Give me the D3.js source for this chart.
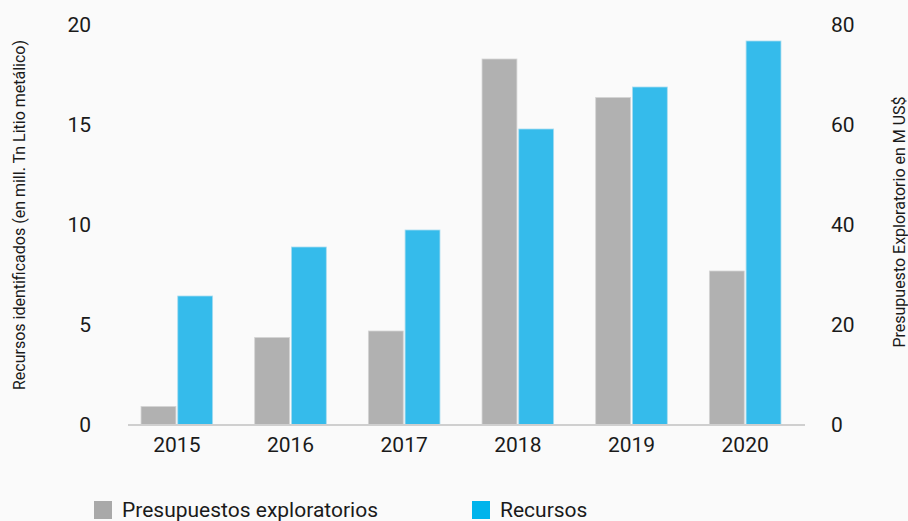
<!DOCTYPE html>
<html>
<head>
<meta charset="utf-8">
<script src="https://cdn.jsdelivr.net/npm/d3@7"></script>
<style>
  html, body { margin: 0; padding: 0; background: #fafafa; }
  svg { display: block; }
  text { font-family: Roboto, "Noto Sans", sans-serif; fill: #1a1a1a; }
</style>
</head>
<body>
<svg id="chart" width="908" height="521"></svg>
<script>
// Años y series
const years = ["2015", "2016", "2017", "2018", "2019", "2020"];
// Presupuesto exploratorio (M US$) — eje derecho
const presupuestos = [3.7, 17.5, 18.8, 73.2, 65.5, 30.8];
// Recursos identificados (mill. Tn Litio metálico) — eje izquierdo
const recursos = [6.45, 8.9, 9.75, 14.8, 16.9, 19.2];
const leftTicks = [0, 5, 10, 15, 20];
const rightTicks = [0, 20, 40, 60, 80];
const seriesNames = ["Presupuestos exploratorios", "Recursos"];

const colors = { bar: ["#b1b1b1", "#35bbeb"], legend: ["#a9a9a9", "#00b4ec"] };

const svg = d3.select("#chart");
const plotTop = 25, plotBottom = 425;

const x0 = d3.scaleBand().domain(years).range([120, 802])
  .paddingInner(0.37).paddingOuter(0.185);
const x1 = d3.scaleBand().domain([0, 1]).range([0, x0.bandwidth()]).paddingInner(0.05);
const yLeft = d3.scaleLinear().domain([0, 20]).range([plotBottom, plotTop]);
const yRight = d3.scaleLinear().domain([0, 80]).range([plotBottom, plotTop]);

// Barras
const groups = svg.append("g").selectAll("g").data(years).join("g")
  .attr("transform", d => `translate(${x0(d)},0)`);

groups.append("rect")
  .attr("x", x1(0)).attr("width", x1.bandwidth())
  .attr("y", (d, i) => yRight(presupuestos[i]))
  .attr("height", (d, i) => plotBottom - yRight(presupuestos[i]))
  .attr("fill", colors.bar[0]).attr("stroke", "#d4d4d4").attr("stroke-width", 0.8);

groups.append("rect")
  .attr("x", x1(1)).attr("width", x1.bandwidth())
  .attr("y", (d, i) => yLeft(recursos[i]))
  .attr("height", (d, i) => plotBottom - yLeft(recursos[i]))
  .attr("fill", colors.bar[1]).attr("stroke", "#a9dcef").attr("stroke-width", 0.8);

// Línea base
svg.append("line").attr("x1", 128).attr("x2", 805).attr("y1", plotBottom).attr("y2", plotBottom)
  .attr("stroke", "#cfcfcf").attr("stroke-width", 2);

// Eje X
const xAxis = svg.append("g").attr("transform", `translate(0,${plotBottom})`)
  .call(d3.axisBottom(x0).tickSize(0).tickPadding(12));
xAxis.select(".domain").remove();
xAxis.selectAll("text").style("font-size", "21px").style("font-family", "Roboto, sans-serif").attr("fill", "#2a2a2a");

// Eje izquierdo
const yl = svg.append("g").attr("transform", "translate(91,0)")
  .call(d3.axisLeft(yLeft).tickValues(leftTicks).tickSize(0).tickPadding(0));
yl.select(".domain").remove();
yl.selectAll("text").style("font-size", "21px").style("font-family", "Roboto, sans-serif").attr("fill", "#1a1a1a");

// Eje derecho
const yr = svg.append("g").attr("transform", "translate(831,0)")
  .call(d3.axisRight(yRight).tickValues(rightTicks).tickSize(0).tickPadding(0));
yr.select(".domain").remove();
yr.selectAll("text").style("font-size", "21px").style("font-family", "Roboto, sans-serif").attr("fill", "#1a1a1a");

// Títulos de ejes
svg.append("text")
  .attr("transform", "translate(25,215) rotate(-90)")
  .attr("text-anchor", "middle").style("font-size", "16px")
  .text("Recursos identificados (en mill. Tn Litio metálico)");

svg.append("text")
  .attr("transform", "translate(905,222) rotate(-90)")
  .attr("text-anchor", "middle").style("font-size", "16px")
  .text("Presupuesto Exploratorio en M US$");

// Leyenda
const legendX = [94, 472];
const legend = svg.append("g").selectAll("g").data(seriesNames).join("g")
  .attr("transform", (d, i) => `translate(${legendX[i]},501)`);
legend.append("rect").attr("width", 18).attr("height", 18)
  .attr("fill", (d, i) => colors.legend[i]);
legend.append("text").attr("x", 28).attr("y", 16)
  .style("font-size", "21px").attr("fill", "#111").text(d => d);
</script>
</body>
</html>
